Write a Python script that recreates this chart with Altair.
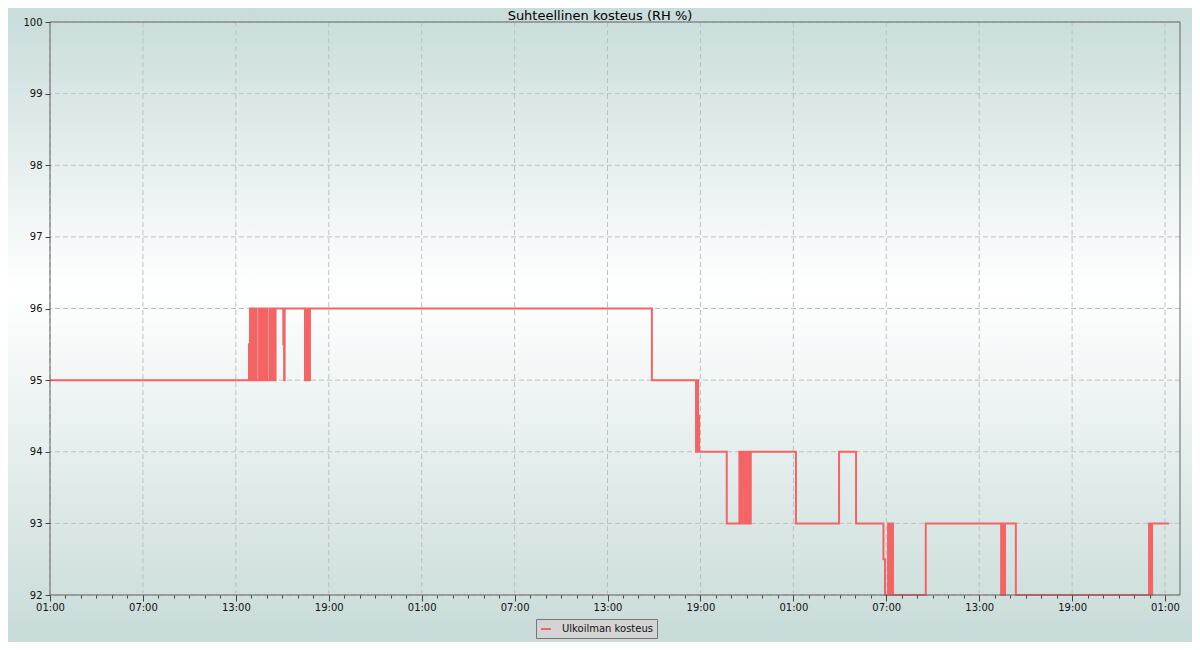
import altair as alt
import pandas as pd

# ---------------- data ----------------
title_text = "Suhteellinen kosteus (RH %)"
series_name = "Ulkoilman kosteus"
start_time = "2024-01-15 01:00"
end_offset_min = 4378  # x-axis ends ~01:58 on the fourth day

# step changes: minutes after start, value from that moment on
change_minutes = [
    0, 771,
    775, 778, 781, 784, 787, 790, 793, 796, 799, 801,
    810, 813, 816, 819, 822, 825, 828, 831, 834, 837, 840, 843,
    852, 855, 858, 861, 864, 867, 870, 872, 874,
    904, 907, 909,
    988, 991, 994, 997, 1000, 1003, 1005, 1007,
    2332,
    2503, 2505, 2507, 2509, 2511, 2513, 2515,
    2622,
    2671, 2674, 2677, 2680, 2683, 2685, 2689, 2691, 2694, 2697, 2700, 2702,
    2704, 2707, 2710, 2713, 2715,
    2890, 3057, 3123,
    3229, 3235,
    3247, 3250, 3252, 3255, 3258, 3261, 3264, 3266,
    3393,
    3685, 3688, 3691, 3694, 3697, 3700,
    3742,
    4258, 4260, 4262, 4264, 4266, 4268, 4270,
    4335,
]
change_values = [
    95, 95.5,
    96, 95, 96, 95, 96, 95, 96, 95, 96, 95,
    96, 95, 96, 95, 96, 95, 96, 95, 96, 95, 96, 95,
    96, 95, 96, 95, 96, 95, 96, 95, 96,
    95.5, 95, 96,
    95, 96, 95, 96, 95, 96, 95, 96,
    95,
    94, 95, 94, 95, 94, 94.5, 94,
    93,
    94, 93, 94, 93, 94, 93.5, 94, 93, 94, 93, 94, 93.5,
    94, 93, 94, 93, 94,
    93, 94, 93,
    92.5, 92,
    93, 92, 93, 92, 93, 92, 93, 92,
    93,
    92, 93, 92, 93, 92, 93,
    92,
    93, 92, 93, 92, 93, 92, 93,
    93,
]

y_ticks = [92, 93, 94, 95, 96, 97, 98, 99, 100]
major_tick_hours = [0, 6, 12, 18, 24, 30, 36, 42, 48, 54, 60, 66, 72]
minor_tick_hours = list(range(0, 73))

line_color = "#f46464"
font = "DejaVu Sans"

# ---------------- helpers ----------------
start = pd.Timestamp(start_time)


def to_dt(ts):
    return alt.DateTime(year=int(ts.year), month=int(ts.month), date=int(ts.day),
                        hours=int(ts.hour), minutes=int(ts.minute))


times = start + pd.to_timedelta(change_minutes, unit="m")
df = pd.DataFrame({
    "t": times.strftime("%Y-%m-%dT%H:%M:%S"),
    "v": change_values,
    "s": series_name,
})

end = start + pd.Timedelta(minutes=end_offset_min)
major_dt = [to_dt(start + pd.Timedelta(hours=h)) for h in major_tick_hours]
minor_dt = [to_dt(start + pd.Timedelta(hours=h)) for h in minor_tick_hours]
df_xgrid = pd.DataFrame({"t": [(start + pd.Timedelta(hours=h)).strftime("%Y-%m-%dT%H:%M:%S")
                               for h in major_tick_hours]})
df_ygrid = pd.DataFrame({"v": y_ticks})
df_frame = pd.DataFrame({
    "t0": [start.strftime("%Y-%m-%dT%H:%M:%S")],
    "t1": [end.strftime("%Y-%m-%dT%H:%M:%S")],
    "v0": [y_ticks[0]], "v1": [y_ticks[-1]],
})

W, H = 1130, 573
PAD = {"left": 42, "top": 14, "right": 12, "bottom": 47}

xscale = alt.Scale(domain=[to_dt(start), to_dt(end)])
yscale = alt.Scale(domain=[y_ticks[0], y_ticks[-1]], nice=False, zero=False)

y_axis = alt.Axis(values=y_ticks, format="d", tickSize=5, labelPadding=3,
                  domain=False, grid=False, zindex=1, labelFlush=False,
                  tickColor="#444")

grad = alt.Gradient(
    gradient="linear", x1=0, y1=0, x2=0, y2=1,
    stops=[
        alt.GradientStop(offset=0, color="#c8dcda"),
        alt.GradientStop(offset=0.445, color="#ffffff"),
        alt.GradientStop(offset=1, color="#c8dbd8"),
    ],
)

bg = alt.Chart(pd.DataFrame({"k": [0]})).mark_rect(fill=grad).encode(
    x=alt.value(-PAD["left"]), x2=alt.value(W + PAD["right"]),
    y=alt.value(-PAD["top"]), y2=alt.value(H + PAD["bottom"]),
)

grid_style = dict(color="#c0c0c0", strokeDash=[5, 3], strokeWidth=1)
ygrid = alt.Chart(df_ygrid).mark_rule(**grid_style).encode(
    y=alt.Y("v:Q", scale=yscale, title=None, axis=y_axis)
)
xgrid = alt.Chart(df_xgrid).mark_rule(**grid_style).encode(
    x=alt.X("t:T", scale=xscale, axis=None)
)

line = alt.Chart(df).mark_line(interpolate="step-after", strokeWidth=2).encode(
    x=alt.X("t:T", scale=xscale, title=None,
            axis=alt.Axis(values=major_dt, format="%H:%M", tickSize=6, labelPadding=1,
                          domain=False, grid=False, orient="bottom", zindex=1,
                          labelFlush=False, labelOverlap=False, tickColor="#444")),
    y=alt.Y("v:Q", scale=yscale, title=None, axis=y_axis),
    color=alt.Color("s:N", scale=alt.Scale(range=[line_color]),
                    legend=alt.Legend(title=None, orient="none", legendX=486, legendY=597,
                                      fillColor="#d4d4d4", strokeColor="#777", padding=4,
                                      symbolType="stroke", symbolSize=100,
                                      symbolStrokeWidth=2, labelOffset=10,
                                      labelFontSize=10, labelFont=font,
                                      labelColor="#111")),
)

frame = alt.Chart(df_frame).mark_rect(fillOpacity=0, stroke="#666", strokeWidth=1).encode(
    x=alt.X("t0:T", scale=xscale, title=None,
            axis=alt.Axis(values=minor_dt, labels=False, tickSize=3, domain=False,
                          grid=False, orient="bottom", zindex=1, tickColor="#444")),
    x2="t1:T",
    y=alt.Y("v0:Q", scale=yscale, title=None, axis=y_axis),
    y2="v1:Q",
)

chart = alt.layer(bg, ygrid, xgrid, line, frame).resolve_axis(
    x="independent"
).properties(
    width=W, height=H, padding=PAD,
    autosize=alt.AutoSizeParams(type="none"),
    title=alt.TitleParams(text=title_text, fontSize=13, font=font, fontWeight="normal",
                          color="#000", anchor="middle", offset=-15, dx=-15),
).configure(background="#c8dcda").configure_view(stroke=None).configure_axis(
    labelFont=font, labelFontSize=10, labelColor="#111"
)

chart.save("out.html", embed_options={"renderer": "svg", "actions": False})
